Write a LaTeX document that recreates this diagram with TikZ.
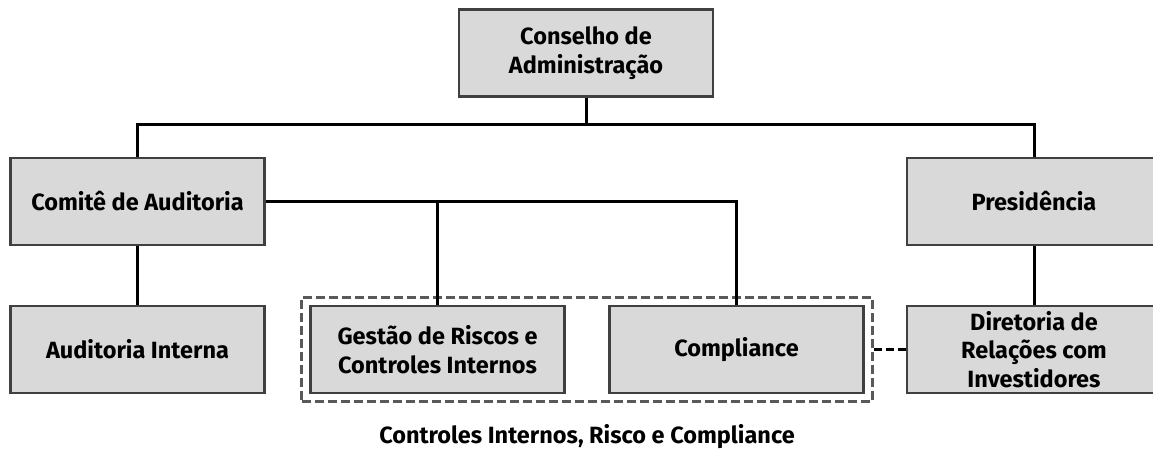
\documentclass[tikz,border=0pt]{standalone}
\usepackage{fontspec}
\setmainfont{Fira Sans}
\usetikzlibrary{fit}
\definecolor{boxfill}{HTML}{D9D9D9}
\definecolor{boxline}{HTML}{404040}
\definecolor{grpline}{HTML}{595959}
\tikzset{
  orgbox/.style={draw=boxline, fill=boxfill, line width=2.5pt,
    minimum width=254pt, minimum height=87pt, inner sep=0pt,
    align=center, font=\fontsize{23.5}{28.5}\selectfont\bfseries},
  link/.style={draw=black, line width=3pt},
  dlink/.style={draw=black, line width=3pt, dash pattern=on 8pt off 4pt},
  grp/.style={draw=grpline, line width=3pt, dash pattern=on 9pt off 4pt, inner sep=7.5pt},
  captiontext/.style={font=\fontsize{23.5}{28}\selectfont\bfseries}
}
\begin{document}
\begin{tikzpicture}[x=1pt,y=-1pt]
\useasboundingbox (0,0) rectangle (1153,452);
\clip (0,0) rectangle (1153,452);
\node[orgbox] (cons) at (586,53) {Conselho de\\Administração};
\node[orgbox] (comite) at (137.5,201.5) {Comitê de Auditoria};
\node[orgbox] (pres) at (1034,201.5) {Presidência};
\node[orgbox] (audit) at (137.5,349.5) {Auditoria Interna};
\node[orgbox] (gestao) at (437.5,349.5) {Gestão de Riscos e\\Controles Internos};
\node[orgbox] (compl) at (736.5,349.5) {Compliance};
\node[orgbox] (dir) at (1034,349.5) {Diretoria de\\Relações com\\Investidores};
\node[grp, fit=(gestao)(compl)] (group) {};
\node[captiontext] (caption) at (587,437) {Controles Internos, Risco e Compliance};
\coordinate (bus) at (586,124);
\draw[link] (cons.south) -- (bus);
\draw[link] (comite.north) |- (bus) -| (pres.north);
\draw[link] (comite.east) -| (compl.north);
\draw[link] (gestao.north) -- (gestao.north |- comite.east);
\draw[link] (comite.south) -- (audit.north);
\draw[link] (pres.south) -- (dir.north);
\draw[dlink] (group.east |- dir.west) -- (dir.west);
\end{tikzpicture}
\end{document}
